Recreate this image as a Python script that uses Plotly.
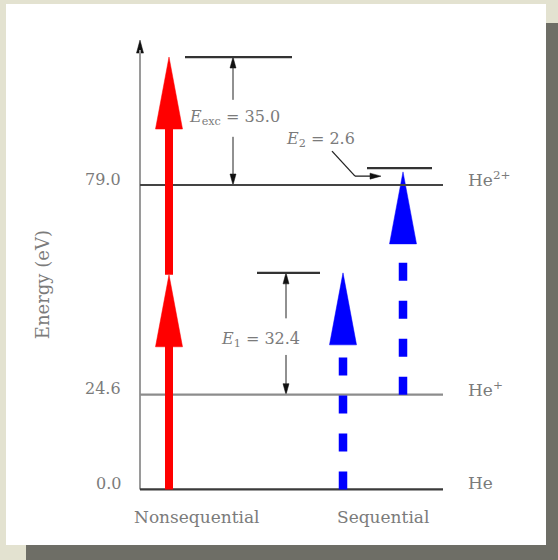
import plotly.graph_objects as go

# ---------------- data ----------------
level_energy = [0.0, 24.6, 79.0]                 # eV
level_tick_text = ["0.0", "24.6", "79.0"]
level_species = ["He", "He<sup>+</sup>", "He<sup>2+</sup>"]
level_colors = ["#3a3a3a", "#8c8c8c", "#444444"]

gap_names = ["exc", "1", "2"]
gap_values = [35.0, 32.4, 2.6]                  # eV
gap_base_energy = [79.0, 24.6, 79.0]            # level each gap is measured from
gap_top_drawn = [112.2, 56.2, 83.4]             # drawn height of upper virtual level

nonseq_steps = [(0.0, 55.7), (55.7, 112.2)]     # (start, tip) eV
seq_steps = [(0.0, 56.2), (24.6, 82.4)]

category_labels = ["Nonsequential", "Sequential"]
y_title = "Energy (eV)"

# ---------------- layout constants ----------------
W, H = 558, 560
Y_RANGE = [-18.3, 127.0]
K = H / (Y_RANGE[1] - Y_RANGE[0])   # px per eV

AXIS_X = 140
LEVEL_X_END = 443
NONSEQ_X = 169
SEQ_X = [343, 403]
TEXT = "#7b7b7b"
FONT = "DejaVu Serif"
RED = "#ff0000"
BLUE = "#0000ff"

fig = go.Figure()
shapes = []
annotations = []


def e_of(px):
    return px / K


def tri(cx, tip, length_px, width_px, color, direction="up"):
    if direction == "up":
        b = tip - e_of(length_px)
        xs = [cx - width_px / 2, cx + width_px / 2, cx, cx - width_px / 2]
        ys = [b, b, tip, b]
    elif direction == "down":
        b = tip + e_of(length_px)
        xs = [cx - width_px / 2, cx + width_px / 2, cx, cx - width_px / 2]
        ys = [b, b, tip, b]
    else:  # right: cx is tip x, tip is energy
        xs = [cx - length_px, cx - length_px, cx, cx - length_px]
        ys = [tip + e_of(width_px / 2), tip - e_of(width_px / 2), tip, tip + e_of(width_px / 2)]
    fig.add_trace(go.Scatter(x=xs, y=ys, mode="lines", fill="toself",
                             fillcolor=color, line=dict(color=color, width=0.5),
                             hoverinfo="skip", showlegend=False))


def seg(x0, y0, x1, y1, color, width, dash="solid"):
    shapes.append(dict(type="line", xref="x", yref="y", x0=x0, y0=y0, x1=x1, y1=y1,
                       line=dict(color=color, width=width, dash=dash), layer="above"))


# ---------------- background panel ----------------
def pbox(x0, y0, x1, y1, color):
    shapes.append(dict(type="rect", xref="paper", yref="paper",
                       x0=x0 / W, x1=x1 / W, y0=1 - y1 / H, y1=1 - y0 / H,
                       fillcolor=color, line=dict(width=0), layer="below"))

pbox(546, 23, 558, 560, "#6e6e66")
pbox(26, 545, 558, 560, "#6e6e66")
pbox(6, 4, 546, 545, "#ffffff")

# ---------------- axis ----------------
seg(AXIS_X, level_energy[0], AXIS_X, 116.6 - e_of(10), "#9a9a9a", 2)
tri(AXIS_X, 116.6, 13, 7, "#111111", "up")

# ---------------- levels ----------------
for e, c, lab, sp in zip(level_energy, level_colors, level_tick_text, level_species):
    seg(AXIS_X, e, LEVEL_X_END, e, c, 2.2)
    annotations.append(dict(x=123, y=e, xref="x", yref="y", text=lab, showarrow=False,
                            xanchor="right", yanchor="middle", yshift=6,
                            font=dict(family=FONT, size=16, color=TEXT)))
    annotations.append(dict(x=466, y=e, xref="x", yref="y", text=sp, showarrow=False,
                            xanchor="left", yanchor="middle", yshift=6,
                            font=dict(family=FONT, size=17, color=TEXT)))

# ---------------- upper virtual levels ----------------
upper_x = [(185, 292), (257, 320), (367, 432)]
for (xa, xb), top in zip(upper_x, gap_top_drawn):
    seg(xa, top, xb, top, "#333333", 2.2)

# ---------------- excitation arrows ----------------
HEAD_L, HEAD_W = 72, 27
for s, t in nonseq_steps:
    seg(NONSEQ_X, s, NONSEQ_X, t - e_of(HEAD_L) + 0.5, RED, 8)
    tri(NONSEQ_X, t, HEAD_L, HEAD_W, RED, "up")
for x, (s, t) in zip(SEQ_X, seq_steps):
    seg(x, s, x, t - e_of(HEAD_L), BLUE, 8.5, dash="18px,20px")
    tri(x, t, HEAD_L, HEAD_W, BLUE, "up")

# ---------------- dimension arrows ----------------
def dim_arrow(x, top, bottom, gap_lo, gap_hi):
    seg(x, top - e_of(10), x, gap_hi, "#222222", 1)
    seg(x, gap_lo, x, bottom + e_of(10), "#222222", 1)
    tri(x, top, 11, 6, "#111111", "up")
    tri(x, bottom, 11, 6, "#111111", "down")

# E_exc
dim_arrow(233, gap_top_drawn[0], gap_base_energy[0], 91.5, 101.1)
annotations.append(dict(x=234, y=96.4, xref="x", yref="y",
                        text="<i>E</i><sub>exc</sub> = %.1f" % gap_values[0],
                        showarrow=False, font=dict(family=FONT, size=16, color=TEXT)))
# E_1
dim_arrow(286, gap_top_drawn[1], gap_base_energy[1], 34.9, 44.4)
annotations.append(dict(x=260, y=39.0, xref="x", yref="y",
                        text="<i>E</i><sub>1</sub> = %.1f" % gap_values[1],
                        showarrow=False, font=dict(family=FONT, size=16, color=TEXT)))
# E_2 pointer
seg(332, 87.8, 355, 81.3, "#222222", 1.3)
seg(355, 81.3, 371, 81.3, "#222222", 1.3)
tri(381, 81.3, 11, 6, "#111111", "right")
annotations.append(dict(x=320, y=90.9, xref="x", yref="y",
                        text="<i>E</i><sub>2</sub> = %.1f" % gap_values[2],
                        showarrow=False, font=dict(family=FONT, size=16, color=TEXT)))

# ---------------- category labels and title ----------------
for cx, lab in zip([197, 383], category_labels):
    annotations.append(dict(x=cx, y=-7.1, xref="x", yref="y", text=lab, showarrow=False,
                            font=dict(family=FONT, size=17, color=TEXT)))
annotations.append(dict(x=42, y=53.0, xref="x", yref="y", text=y_title, showarrow=False,
                        textangle=-90, font=dict(family=FONT, size=18, color=TEXT)))

fig.update_layout(
    width=W, height=H, autosize=False,
    margin=dict(l=0, r=0, t=0, b=0),
    paper_bgcolor="#e3e2d0", plot_bgcolor="rgba(0,0,0,0)",
    xaxis=dict(range=[0, W], visible=False, fixedrange=True),
    yaxis=dict(range=Y_RANGE, visible=False, fixedrange=True),
    shapes=shapes, annotations=annotations, showlegend=False,
)

fig.write_html("out.html")
